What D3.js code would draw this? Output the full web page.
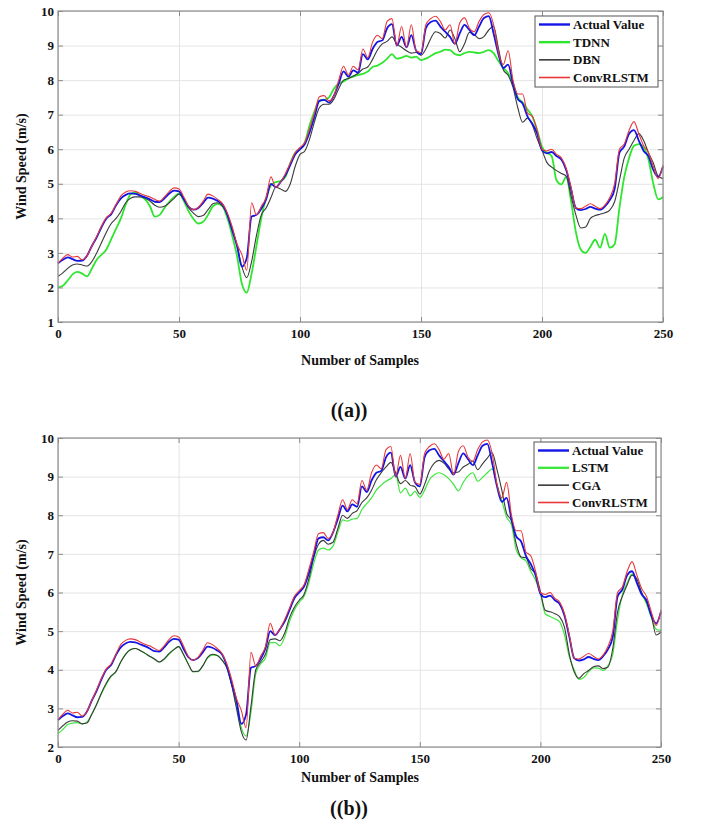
<!DOCTYPE html>
<html>
<head>
<meta charset="utf-8">
<script src="https://cdn.jsdelivr.net/npm/d3@7/dist/d3.min.js"></script>
<style>
  body { margin: 0; background: #fff; }
  svg text { font-family: "Liberation Serif", "Times New Roman", serif; font-weight: bold; fill: #111; }
</style>
</head>
<body>
<script>
// sample index (every 2nd sample)
const samples = d3.range(0, 251, 2);

// measured wind speed, shared by both panels
const actual = [
  2.70,2.80,2.87,2.82,2.77,2.78,2.92,3.20,3.45,3.75,
  4.00,4.12,4.38,4.58,4.68,4.72,4.71,4.66,4.61,4.55,
  4.48,4.47,4.58,4.72,4.80,4.78,4.55,4.33,4.25,4.30,
  4.45,4.60,4.57,4.50,4.40,4.10,3.65,3.20,2.60,2.85,
  4.05,4.10,4.28,4.55,5.00,4.90,5.05,5.25,5.55,5.85,
  6.00,6.15,6.50,6.95,7.40,7.43,7.35,7.55,7.90,8.25,
  8.10,8.28,8.22,8.75,8.60,8.90,9.10,9.15,9.50,9.62,
  9.00,9.25,8.95,9.30,8.85,8.75,9.50,9.68,9.72,9.55,
  9.40,9.25,9.05,9.35,9.60,9.45,9.30,9.55,9.80,9.85,
  9.35,8.75,8.35,8.45,7.90,7.45,7.32,6.95,6.74,6.45,
  5.97,5.88,5.92,5.80,5.70,5.40,4.85,4.30,4.24,4.27,
  4.33,4.28,4.25,4.35,4.53,4.85,5.90,6.08,6.45,6.55,
  6.25,5.95,5.80,5.40,5.20,5.50
];

const convRLSTM = [
  2.70,2.85,2.95,2.88,2.90,2.80,2.92,3.20,3.48,3.78,
  4.02,4.15,4.40,4.65,4.76,4.80,4.78,4.72,4.66,4.62,
  4.55,4.50,4.62,4.78,4.88,4.85,4.62,4.35,4.25,4.32,
  4.50,4.70,4.65,4.55,4.42,4.15,3.75,3.25,2.95,2.50,
  4.45,4.10,4.35,4.60,5.20,4.90,5.05,5.30,5.60,5.90,
  6.05,6.20,6.60,7.05,7.52,7.55,7.40,7.55,8.00,8.40,
  8.15,8.40,8.30,8.90,8.65,9.10,9.30,9.20,9.70,9.78,
  9.00,9.55,8.95,9.60,8.85,8.80,9.60,9.78,9.85,9.70,
  9.45,9.60,9.05,9.65,9.80,9.50,9.40,9.70,9.90,9.95,
  9.60,8.80,8.45,8.85,8.00,7.60,7.60,7.05,6.95,6.55,
  6.00,5.95,6.00,5.85,5.75,5.45,4.90,4.30,4.28,4.35,
  4.42,4.35,4.28,4.38,4.60,5.00,6.00,6.15,6.55,6.80,
  6.45,6.10,5.90,5.50,5.15,5.55
];

// panel (a)
const tdnn = [
  2.00,2.05,2.20,2.38,2.45,2.40,2.32,2.55,2.80,2.95,
  3.10,3.40,3.70,4.00,4.40,4.70,4.75,4.65,4.55,4.35,
  4.05,4.10,4.30,4.48,4.62,4.72,4.50,4.20,3.98,3.85,
  3.90,4.10,4.35,4.42,4.35,4.00,3.50,2.90,2.10,1.85,
  2.40,3.20,4.00,4.60,4.95,5.05,5.08,5.20,5.60,5.90,
  6.00,6.20,6.70,7.10,7.40,7.43,7.50,7.75,7.90,7.96,
  8.05,8.10,8.15,8.18,8.25,8.38,8.42,8.50,8.62,8.75,
  8.62,8.65,8.70,8.65,8.68,8.58,8.62,8.70,8.78,8.82,
  8.88,8.87,8.75,8.72,8.78,8.82,8.80,8.78,8.82,8.87,
  8.78,8.55,8.35,8.20,7.90,7.50,7.35,7.15,6.95,6.55,
  6.07,5.90,5.80,5.10,4.98,5.20,4.50,3.60,3.10,3.00,
  3.18,3.38,3.15,3.55,3.15,3.25,4.30,5.20,5.75,6.10,
  6.15,6.05,5.70,5.00,4.55,4.62
];

const dbn = [
  2.32,2.42,2.55,2.65,2.68,2.65,2.62,2.75,3.00,3.30,
  3.60,3.85,4.00,4.20,4.45,4.58,4.62,4.62,4.58,4.50,
  4.38,4.32,4.35,4.45,4.58,4.70,4.55,4.30,4.15,4.05,
  4.08,4.25,4.42,4.45,4.35,4.10,3.70,3.20,2.60,2.28,
  2.75,3.50,4.10,4.30,4.60,4.90,4.85,4.78,5.00,5.50,
  5.85,5.95,6.30,6.80,7.20,7.30,7.30,7.45,7.75,8.00,
  8.05,8.12,8.20,8.32,8.38,8.60,8.87,9.05,9.12,9.25,
  9.05,8.95,8.85,8.78,8.80,8.72,8.90,9.20,9.40,9.35,
  9.22,9.45,9.20,8.82,9.05,9.38,9.32,9.20,9.26,9.45,
  9.55,8.92,8.30,8.14,7.80,7.20,6.78,6.90,6.70,6.30,
  5.97,5.62,5.48,5.38,5.30,5.22,4.65,4.10,3.72,3.75,
  4.00,4.08,4.12,4.16,4.24,4.48,5.10,5.75,6.00,6.25,
  6.45,6.25,5.90,5.60,5.22,5.15
];

// panel (b)
const lstm = [
  2.35,2.45,2.58,2.62,2.63,2.60,2.65,2.85,3.10,3.38,
  3.62,3.82,3.95,4.20,4.40,4.52,4.55,4.50,4.43,4.35,
  4.27,4.20,4.27,4.40,4.52,4.60,4.40,4.15,3.95,3.95,
  4.10,4.30,4.38,4.37,4.25,4.05,3.62,3.05,2.50,2.28,
  2.90,3.90,4.15,4.30,4.70,4.70,4.62,4.85,5.25,5.55,
  5.75,5.90,6.25,6.75,7.10,7.15,7.10,7.20,7.55,7.88,
  7.85,7.90,7.92,8.15,8.30,8.45,8.65,8.78,8.88,8.95,
  9.05,8.58,8.70,8.50,8.62,8.46,8.65,8.92,9.05,9.10,
  9.05,8.95,8.80,8.63,8.85,9.02,9.10,8.88,8.98,9.10,
  9.20,8.80,8.38,7.95,7.75,7.10,6.90,6.82,6.55,6.32,
  5.97,5.45,5.38,5.32,5.24,4.90,4.33,4.00,3.75,3.80,
  3.95,4.05,4.04,3.98,4.10,4.40,5.30,5.95,6.25,6.48,
  6.27,5.97,5.70,5.35,5.05,5.02
];

const cga = [
  2.43,2.55,2.65,2.68,2.67,2.60,2.62,2.85,3.10,3.40,
  3.65,3.84,3.95,4.20,4.40,4.52,4.55,4.50,4.43,4.35,
  4.28,4.20,4.28,4.42,4.52,4.60,4.40,4.15,3.95,3.96,
  4.10,4.32,4.40,4.37,4.25,4.05,3.60,3.00,2.40,2.18,
  3.05,4.00,4.20,4.40,4.78,4.80,4.75,4.95,5.35,5.62,
  5.80,5.95,6.35,6.90,7.25,7.35,7.25,7.30,7.65,8.00,
  7.92,8.05,8.12,8.33,8.45,8.65,8.92,9.10,9.25,9.37,
  9.10,8.82,8.90,8.78,8.74,8.55,8.80,9.15,9.35,9.42,
  9.35,9.20,9.10,9.12,9.25,9.32,9.40,9.18,9.33,9.48,
  9.62,9.18,8.65,8.05,7.85,7.25,6.92,6.90,6.62,6.49,
  6.02,5.54,5.50,5.45,5.37,5.10,4.40,3.95,3.78,3.90,
  3.98,4.08,4.10,4.03,4.07,4.55,5.50,5.90,6.20,6.45,
  6.35,6.00,5.75,5.40,4.90,4.98
];

const xTicks = [0, 50, 100, 150, 200, 250];

const width = 702, height = 823;
const svg = d3.select('body').append('svg')
  .attr('width', width)
  .attr('height', height);

const panels = [
  {
    box: {left: 58, right: 663, top: 11, bottom: 322},
    yDomain: [1, 10],
    series: [
      {name: 'TDNN', values: tdnn, color: '#2ee62e', width: 1.8},
      {name: 'DBN', values: dbn, color: '#3a3a3a', width: 1.1},
      {name: 'Actual Value', values: actual, color: '#1414e6', width: 1.8},
      {name: 'ConvRLSTM', values: convRLSTM, color: '#e8383a', width: 1.1}
    ],
    legendOrder: ['Actual Value', 'TDNN', 'DBN', 'ConvRLSTM'],
    legend: {x: 535, y: 16, w: 123, h: 71},
    xLabelY: 365,
    caption: '((a))',
    captionY: 417
  },
  {
    box: {left: 58, right: 661, top: 438, bottom: 747},
    yDomain: [2, 10],
    series: [
      {name: 'LSTM', values: lstm, color: '#3ee63e', width: 1.2},
      {name: 'CGA', values: cga, color: '#3a3a3a', width: 1.1},
      {name: 'Actual Value', values: actual, color: '#1414e6', width: 1.8},
      {name: 'ConvRLSTM', values: convRLSTM, color: '#e8383a', width: 1.1}
    ],
    legendOrder: ['Actual Value', 'LSTM', 'CGA', 'ConvRLSTM'],
    legend: {x: 534, y: 442, w: 122, h: 70},
    xLabelY: 782,
    caption: '((b))',
    captionY: 815
  }
];

panels.forEach(p => drawPanel(p));

function drawPanel(p) {
  const b = p.box;
  const x = d3.scaleLinear().domain([0, 250]).range([b.left, b.right]);
  const y = d3.scaleLinear().domain(p.yDomain).range([b.bottom, b.top]);
  const yTicks = d3.range(p.yDomain[0], p.yDomain[1] + 1);
  const g = svg.append('g');

  // grid
  g.append('g')
    .attr('transform', `translate(0,${b.bottom})`)
    .call(d3.axisBottom(x).tickValues(xTicks).tickSize(-(b.bottom - b.top)).tickFormat(''))
    .call(s => s.select('.domain').remove())
    .selectAll('line').attr('stroke', '#e4e4e4');
  g.append('g')
    .attr('transform', `translate(${b.left},0)`)
    .call(d3.axisLeft(y).tickValues(yTicks).tickSize(-(b.right - b.left)).tickFormat(''))
    .call(s => s.select('.domain').remove())
    .selectAll('line').attr('stroke', '#e4e4e4');

  // curves
  const line = d3.line()
    .x((d, i) => x(samples[i]))
    .y(d => y(d))
    .curve(d3.curveMonotoneX);
  p.series.forEach(s => {
    g.append('path')
      .datum(s.values)
      .attr('fill', 'none')
      .attr('stroke', s.color)
      .attr('stroke-width', s.width)
      .attr('stroke-linejoin', 'round')
      .attr('d', line);
  });

  // box + inward ticks
  g.append('rect')
    .attr('x', b.left).attr('y', b.top)
    .attr('width', b.right - b.left).attr('height', b.bottom - b.top)
    .attr('fill', 'none').attr('stroke', '#8c8c8c').attr('stroke-width', 1.2);

  const xAxis = g.append('g')
    .attr('transform', `translate(0,${b.bottom})`)
    .call(d3.axisBottom(x).tickValues(xTicks).tickSize(-5).tickPadding(7));
  const xAxisTop = g.append('g')
    .attr('transform', `translate(0,${b.top})`)
    .call(d3.axisTop(x).tickValues(xTicks).tickSize(-5).tickFormat(''));
  const yAxis = g.append('g')
    .attr('transform', `translate(${b.left},0)`)
    .call(d3.axisLeft(y).tickValues(yTicks).tickSize(-5).tickPadding(4));
  const yAxisRight = g.append('g')
    .attr('transform', `translate(${b.right},0)`)
    .call(d3.axisRight(y).tickValues(yTicks).tickSize(-5).tickFormat(''));
  [xAxis, xAxisTop, yAxis, yAxisRight].forEach(a => {
    a.select('.domain').remove();
    a.selectAll('line').attr('stroke', '#8c8c8c');
    a.selectAll('text')
      .style('font-family', '"Liberation Serif", serif')
      .style('font-weight', 'bold')
      .style('font-size', '13px')
      .attr('fill', '#111');
  });

  // axis titles
  svg.append('text')
    .attr('transform', `translate(26,${(b.top + b.bottom) / 2}) rotate(-90)`)
    .attr('text-anchor', 'middle')
    .style('font-size', '14px')
    .text('Wind Speed (m/s)');
  svg.append('text')
    .attr('x', 360).attr('y', p.xLabelY)
    .attr('text-anchor', 'middle')
    .style('font-size', '14px')
    .text('Number of Samples');
  svg.append('text')
    .attr('x', 349).attr('y', p.captionY)
    .attr('text-anchor', 'middle')
    .style('font-size', '20px')
    .text(p.caption);

  // legend
  const L = p.legend;
  const lg = svg.append('g').attr('transform', `translate(${L.x},${L.y})`);
  lg.append('rect')
    .attr('width', L.w).attr('height', L.h)
    .attr('fill', '#fff').attr('stroke', '#555').attr('stroke-width', 1);
  const rowY = d3.scaleLinear().domain([0, 3]).range([8.5, L.h - 9.5]);
  p.legendOrder.forEach((name, i) => {
    const s = p.series.find(d => d.name === name);
    const row = lg.append('g').attr('transform', `translate(0,${rowY(i)})`);
    row.append('line')
      .attr('x1', 4).attr('x2', 35)
      .attr('stroke', s.color)
      .attr('stroke-width', (name === 'Actual Value' || i === 1) ? 2.4 : 1.6);
    row.append('text')
      .attr('x', 38).attr('y', 4.5)
      .style('font-size', '13px')
      .text(name);
  });
}
</script>
</body>
</html>
